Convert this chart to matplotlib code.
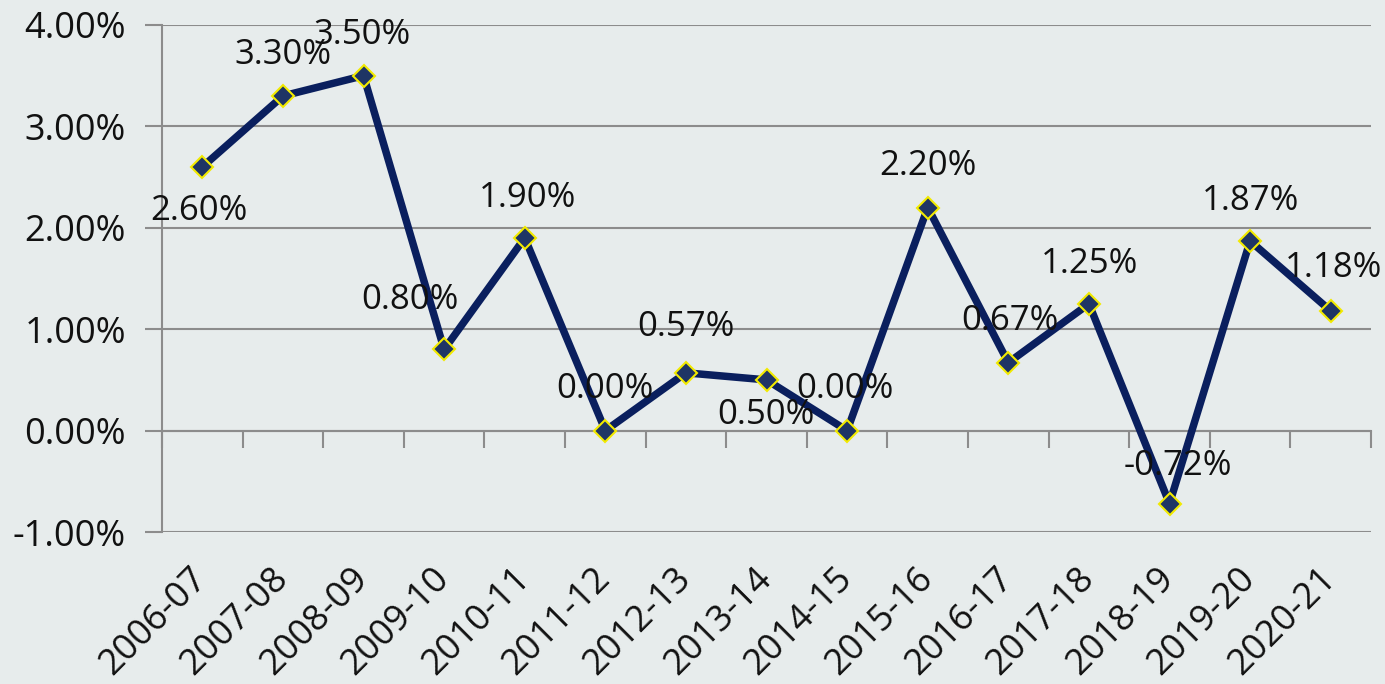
import matplotlib.pyplot as plt
from matplotlib.ticker import FuncFormatter

plt.rcParams['font.family'] = ['Open Sans', 'DejaVu Sans']

years = ['2006-07', '2007-08', '2008-09', '2009-10', '2010-11', '2011-12', '2012-13',
         '2013-14', '2014-15', '2015-16', '2016-17', '2017-18', '2018-19', '2019-20', '2020-21']
growth = [2.60, 3.30, 3.50, 0.80, 1.90, 0.00, 0.57, 0.50, 0.00, 2.20, 0.67, 1.25, -0.72, 1.87, 1.18]

# label offsets (pixels) relative to each point, to mimic excel placement
offsets = [(-3, -44), (0, 41), (-1, 41), (-34, 49), (3, 40), (0, 42), (0, 46), (-1, -35),
           (-2, 42), (0, 42), (2, 42), (1, 40), (8, 38), (0, 40), (3, 43)]

bg = '#E7ECEC'
grid_c = '#8C8C8C'
line_c = '#0A1F5E'

fig = plt.figure(figsize=(13.85, 6.84), dpi=100, facecolor=bg)
ax = fig.add_axes([0.117, 0.2222, 0.8729, 0.7413], facecolor=bg)

x = list(range(len(years)))
ax.plot(x, growth, color=line_c, lw=5.4, marker='D', markersize=11,
        markerfacecolor='#1F3565', markeredgecolor='#F2EA00', markeredgewidth=1.5, zorder=3)

for i, v in enumerate(growth):
    ax.annotate(f'{v:.2f}%', (i, v), xytext=offsets[i], textcoords='offset pixels',
                ha='center', va='center', fontsize=25, color='#111111', zorder=4)

ax.set_xlim(-0.5, len(years) - 0.5)
ax.set_ylim(-1, 4)
ax.set_yticks([-1, 0, 1, 2, 3, 4])
ax.yaxis.set_major_formatter(FuncFormatter(lambda v, p: f'{v:.2f}%'))
ax.tick_params(axis='y', direction='out', length=12, width=1.5, color=grid_c,
               labelsize=26, labelcolor='#111111', pad=14)
ax.grid(axis='y', color=grid_c, lw=1.5)
ax.set_axisbelow(True)

for s in ['top', 'right']:
    ax.spines[s].set_visible(False)
ax.spines['left'].set_color(grid_c)
ax.spines['left'].set_linewidth(1.5)
ax.spines['bottom'].set_position(('data', 0))
ax.spines['bottom'].set_color(grid_c)
ax.spines['bottom'].set_linewidth(1.5)

# boundary ticks on the zero line
ax.set_xticks([i - 0.5 for i in range(len(years) + 1)])
ax.set_xticklabels([])
ax.tick_params(axis='x', direction='out', length=12, width=1.5, color=grid_c)

# category labels at the bottom
sec = ax.secondary_xaxis(0.0)
sec.set_xticks(x)
sec.set_xticklabels(years, rotation=45, ha='right', va='center', rotation_mode='anchor')
sec.tick_params(axis='x', length=0, labelsize=26, labelcolor='#111111', pad=30)
sec.spines['bottom'].set_visible(False)

fig.savefig('out.png', dpi=100, facecolor=bg)
